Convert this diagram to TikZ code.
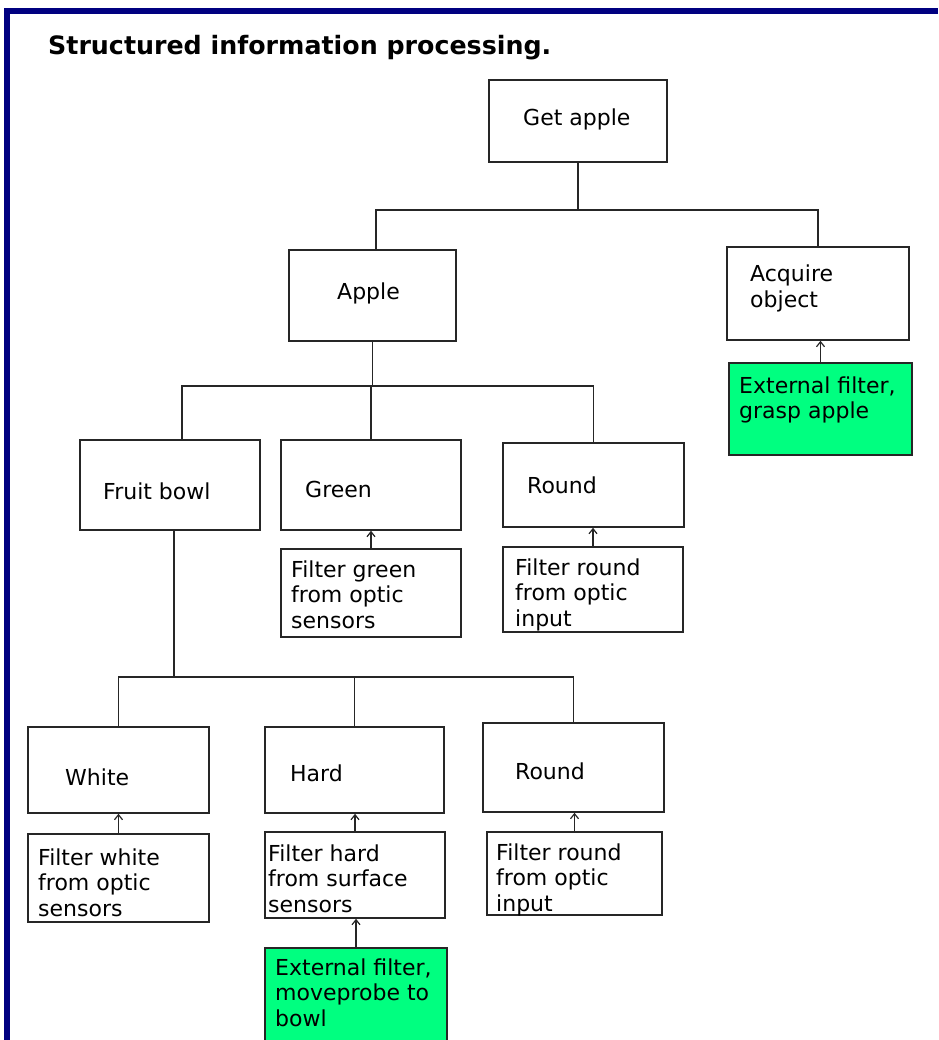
\documentclass[tikz,border=0pt]{standalone}
\usepackage{fontspec}
\setmainfont{DejaVu Sans}
\usetikzlibrary{arrows.meta}
\definecolor{navyb}{RGB}{0,0,128}
\definecolor{filtgreen}{RGB}{0,255,128}
\begin{document}
\begin{tikzpicture}[x=1pt,y=-1pt,
  box/.style={draw=black!85, line width=1.6pt, inner sep=0pt, anchor=center},
  ext/.style={box, fill=filtgreen},
  txt/.style={inner sep=0pt, anchor=base west, align=left, font=\fontsize{22}{25.5}\selectfont},
  link/.style={line width=1.6pt, draw=black!85},
  up/.style={link, -{Straight Barb[length=5pt,width=8pt,line width=1.2pt]}}
]
\useasboundingbox (0,0) rectangle (938,1040);
\fill[white] (0,0) rectangle (938,1040);
\fill[navyb] (4,8) rectangle (938,14);
\fill[navyb] (4,8) rectangle (10,1040);

\node[inner sep=0pt, anchor=base west, font=\bfseries\fontsize{25.3}{28}\selectfont] (title) at (48,55) {Structured information processing.};

% boxes
\node[box, minimum width=178pt, minimum height=82pt] (getapple) at (578,121) {};
\node[box, minimum width=167pt, minimum height=91pt] (apple) at (372.5,295.5) {};
\node[box, minimum width=182pt, minimum height=93pt] (acquire) at (818,293.5) {};
\node[ext, minimum width=183pt, minimum height=92pt] (grasp) at (820.5,409) {};
\node[box, minimum width=180pt, minimum height=90pt] (fruit) at (170,485) {};
\node[box, minimum width=180pt, minimum height=90pt] (green) at (371,485) {};
\node[box, minimum width=181pt, minimum height=84pt] (round1) at (593.5,485) {};
\node[box, minimum width=180pt, minimum height=88pt] (fgreen) at (371,593) {};
\node[box, minimum width=180pt, minimum height=85pt] (fround1) at (593,589.5) {};
\node[box, minimum width=181pt, minimum height=86pt] (white) at (118.5,770) {};
\node[box, minimum width=179pt, minimum height=86pt] (hard) at (354.5,770) {};
\node[box, minimum width=181pt, minimum height=89pt] (round2) at (573.5,767.5) {};
\node[box, minimum width=181pt, minimum height=88pt] (fwhite) at (118.5,878) {};
\node[box, minimum width=180pt, minimum height=86pt] (fhard) at (355,875) {};
\node[box, minimum width=175pt, minimum height=83pt] (fround2) at (574.5,873.5) {};
\node[ext, minimum width=182pt, minimum height=94pt] (probe) at (356,995) {};

% texts (anchor = baseline of the last line)
\node[txt] (tgetapple) at (523,126) {Get apple};
\node[txt] (tapple) at (337,299) {Apple};
\node[txt] (tacquire) at (750,307.5) {Acquire\\object};
\node[txt] (tgrasp) at (739,418.5) {External filter,\\grasp apple};
\node[txt] (tfruit) at (103,499) {Fruit bowl};
\node[txt] (tgreen) at (305,497) {Green};
\node[txt] (tround1) at (527,493) {Round};
\node[txt] (tfgreen) at (291,628) {Filter green\\from optic\\sensors};
\node[txt] (tfround1) at (515,626) {Filter round\\from optic\\input};
\node[txt] (twhite) at (65,785) {White};
\node[txt] (thard) at (290,781) {Hard};
\node[txt] (tround2) at (515,779) {Round};
\node[txt] (tfwhite) at (38,916) {Filter white\\from optic\\sensors};
\node[txt] (tfhard) at (268,912) {Filter hard\\from surface\\sensors};
\node[txt] (tfround2) at (496,911) {Filter round\\from optic\\input};
\node[txt] (tprobe) at (275,1026) {External filter,\\moveprobe to\\bowl};

% tree connectors
\coordinate (j1) at (578,210);
\draw[link] (getapple.south) -- (j1);
\draw[link] ([xshift=3.5pt]apple.north) |- (j1) -| (acquire.north);

\path (apple.south) ++(0,44) coordinate (j2);
\draw[link] (apple.south) -- (j2);
\draw[link] ([xshift=12pt]fruit.north) |- (j2) -| (round1.north);
\draw[link] (green.north) -- (green.north |- j2);

\path ([xshift=4pt]fruit.south) ++(0,146) coordinate (j3);
\draw[link] ([xshift=4pt]fruit.south) -- (j3);
\draw[link] (white.north) |- (j3) -| (round2.north);
\draw[link] (hard.north) -- (hard.north |- j3);

% filter arrows
\draw[up] (grasp.north) -- (grasp.north |- acquire.south);
\draw[up] (fgreen.north) -- (fgreen.north |- green.south);
\draw[up] (fround1.north) -- (fround1.north |- round1.south);
\draw[up] (fwhite.north) -- (fwhite.north |- white.south);
\draw[up] (fhard.north) -- (fhard.north |- hard.south);
\draw[up] (fround2.north) -- (fround2.north |- round2.south);
\draw[up] (probe.north) -- (probe.north |- fhard.south);
\end{tikzpicture}
\end{document}
